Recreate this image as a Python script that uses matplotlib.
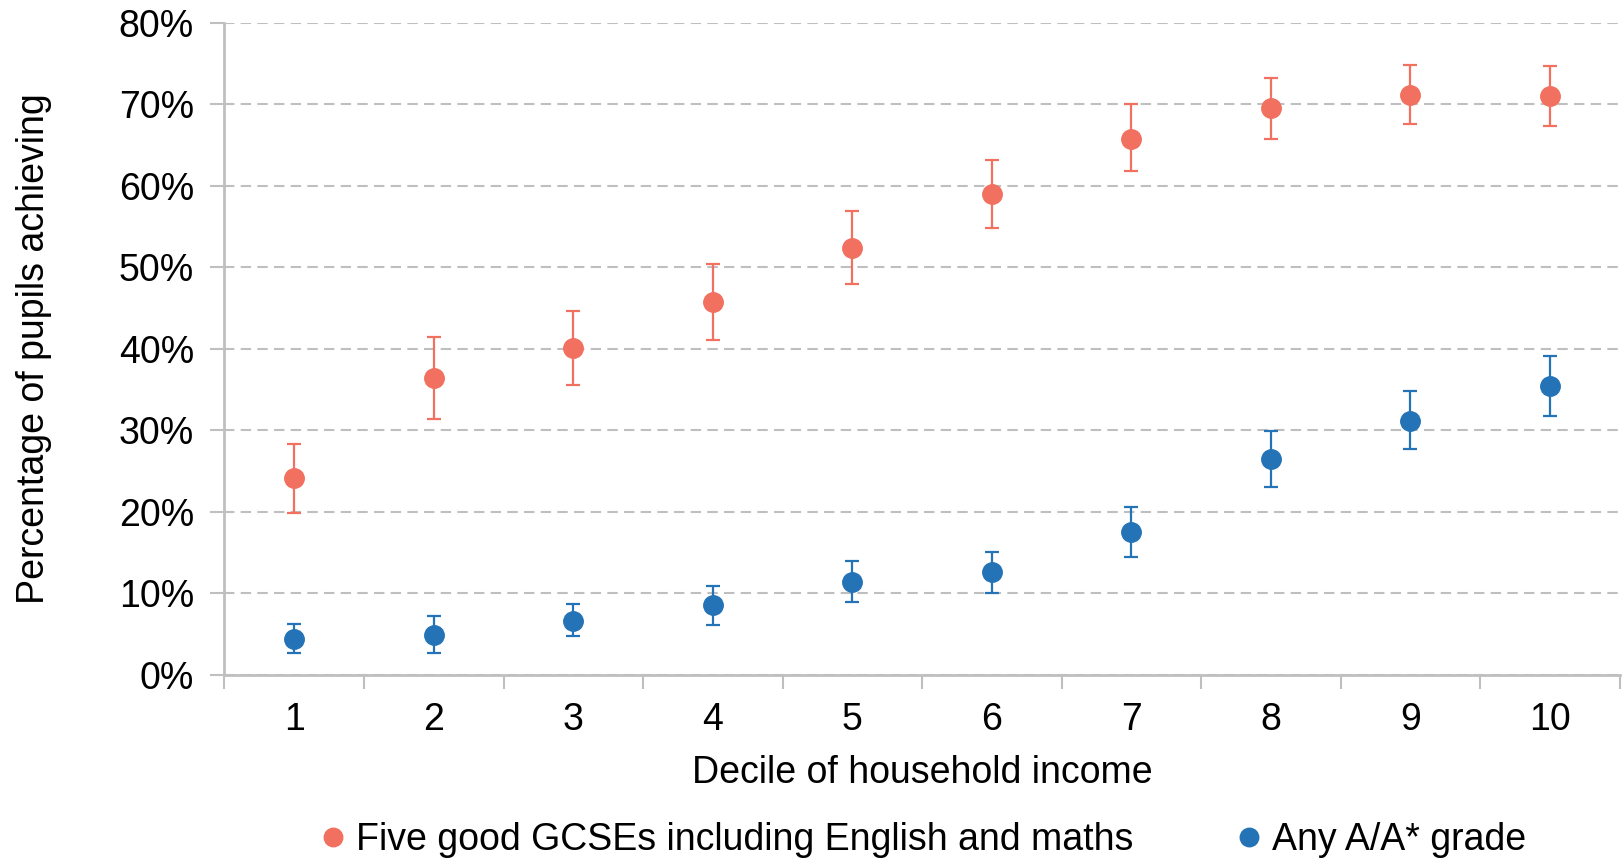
import numpy as np
import matplotlib
matplotlib.use('Agg')
import matplotlib.pyplot as plt
from matplotlib.ticker import PercentFormatter

plt.rcParams['font.family'] = ['Liberation Sans', 'DejaVu Sans']

# Data (percent)
deciles = ['1', '2', '3', '4', '5', '6', '7', '8', '9', '10']
gcse = [24.1, 36.4, 40.1, 45.7, 52.4, 59.0, 65.8, 69.6, 71.2, 71.0]
gcse_hi = [28.3, 41.5, 44.7, 50.4, 56.9, 63.2, 70.0, 73.3, 74.8, 74.7]
gcse_lo = [19.8, 31.4, 35.5, 41.1, 47.9, 54.8, 61.8, 65.8, 67.6, 67.4]
alevel = [4.4, 4.9, 6.6, 8.5, 11.4, 12.6, 17.5, 26.5, 31.2, 35.4]
alevel_hi = [6.2, 7.2, 8.7, 10.9, 14.0, 15.0, 20.6, 29.9, 34.8, 39.1]
alevel_lo = [2.7, 2.7, 4.7, 6.1, 8.9, 10.0, 14.5, 23.0, 27.7, 31.7]
yticks = [0, 10, 20, 30, 40, 50, 60, 70, 80]

red = '#F1705F'
blue = '#2473B6'
grey = '#BFBFBF'
fs = 27

fig = plt.figure(figsize=(16.23, 8.59), dpi=100)
ax = fig.add_axes([0.1383, 0.2146, 0.8597, 0.7586])

x = np.arange(1, len(deciles) + 1)

g = np.array(gcse)
a = np.array(alevel)
h1 = ax.errorbar(x, g, yerr=[g - np.array(gcse_lo), np.array(gcse_hi) - g],
                 fmt='o', color=red, ms=14, elinewidth=1.6, capsize=5, capthick=1.6,
                 zorder=3)
h2 = ax.errorbar(x, a, yerr=[a - np.array(alevel_lo), np.array(alevel_hi) - a],
                 fmt='o', color=blue, ms=14, elinewidth=1.6, capsize=5, capthick=1.6,
                 zorder=3)

ax.set_xlim(0.5, len(deciles) + 0.5)
ax.set_ylim(0, 80)
ax.set_yticks(yticks)
ax.yaxis.set_major_formatter(PercentFormatter(decimals=0))
ax.set_xticks(x)
ax.set_xticklabels(deciles)
ax.set_xticks(np.arange(0.5, len(deciles) + 1), minor=True)
ax.tick_params(axis='x', which='major', length=0, labelsize=fs, pad=20)
ax.tick_params(axis='x', which='minor', length=10, width=1.5, color=grey, direction='out')
ax.tick_params(axis='y', length=10, width=1.5, color=grey, labelsize=fs, pad=12)

ax.grid(axis='y', color=grey, linestyle=(0, (5, 3)), linewidth=1.5, zorder=0)
ax.set_axisbelow(True)
for s in ['top', 'right']:
    ax.spines[s].set_visible(False)
for s in ['left', 'bottom']:
    ax.spines[s].set_color(grey)
    ax.spines[s].set_linewidth(2)

ax.set_xlabel('Decile of household income', fontsize=fs, labelpad=12)
ax.set_ylabel('Percentage of pupils achieving', fontsize=fs, labelpad=48)

fig.legend([h1[0], h2[0]],
           ['Five good GCSEs including English and maths', 'Any A/A* grade'],
           loc='center', bbox_to_anchor=(0.567, 0.022), ncol=2, frameon=False,
           fontsize=fs, handletextpad=0.1, columnspacing=2.6, handlelength=1.0,
           markerscale=0.95)

fig.savefig('out.png', dpi=100)
